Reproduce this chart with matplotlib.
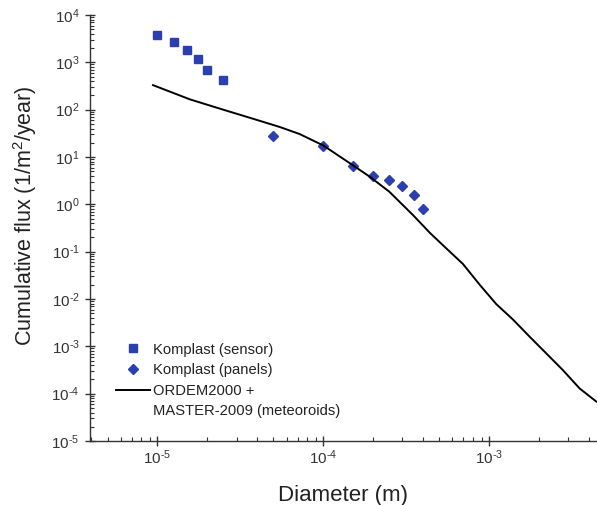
import matplotlib
matplotlib.use("Agg")
import numpy as np
import matplotlib.pyplot as plt
from matplotlib.lines import Line2D
from matplotlib.ticker import LogLocator, FuncFormatter, NullFormatter

plt.rcParams["font.family"] = ["Liberation Sans", "DejaVu Sans"]
plt.rcParams["mathtext.fontset"] = "custom"
plt.rcParams["mathtext.rm"] = "Liberation Sans"
plt.rcParams["mathtext.it"] = "Liberation Sans:italic"
plt.rcParams["mathtext.bf"] = "Liberation Sans:bold"
plt.rcParams["axes.unicode_minus"] = False

# Komplast sensor measurements
sensor_diam = [1.0e-5, 1.25e-5, 1.5e-5, 1.75e-5, 2.0e-5, 2.5e-5]
sensor_flux = [3800, 2700, 1850, 1180, 680, 420]

# Komplast panel measurements
panel_diam = [5.0e-5, 1.0e-4, 1.5e-4, 2.0e-4, 2.5e-4, 3.0e-4, 3.5e-4, 4.0e-4]
panel_flux = [28, 17, 6.5, 4.0, 3.3, 2.4, 1.6, 0.8]

# ORDEM2000 + MASTER-2009 model curve
model_diam = [9.4e-6, 1.57e-5, 2.49e-5, 3.96e-5, 5.47e-5, 7.21e-5, 1.0e-4,
              1.445e-4, 1.905e-4, 2.5e-4, 3.48e-4, 4.39e-4, 5.52e-4, 6.95e-4,
              8.77e-4, 1.104e-3, 1.39e-3, 1.754e-3, 2.21e-3, 2.78e-3,
              3.51e-3, 4.43e-3]
model_flux = [330, 165, 100, 61, 43, 30.5, 17.5, 7.4, 3.84, 1.85, 0.59,
              0.25, 0.117, 0.055, 0.02, 0.0078, 0.0037, 0.0016, 7.1e-4,
              3.16e-4, 1.29e-4, 6.8e-5]

model_label_1 = "ORDEM2000 +"
model_label_2 = "MASTER-2009 (meteoroids)"

blue = "#2b40ae"


def power_label(value, pos):
    """Write a decade as 10 with a superscript exponent, using a plain hyphen."""
    exponent = int(round(np.log10(value)))
    text = str(exponent).replace("-", r"\text{-}")
    return rf"$\mathdefault{{10^{{{text}}}}}$"


fig = plt.figure(figsize=(5.97, 5.05), dpi=100)
ax = fig.add_axes([90 / 597, 1 - 441 / 505, 507 / 597, 426 / 505])

h_sensor, = ax.plot(sensor_diam, sensor_flux, linestyle="none", marker="s",
                    ms=5.5, color=blue)
h_panel, = ax.plot(panel_diam, panel_flux, linestyle="none", marker="D",
                   ms=4.6, color=blue)
h_model, = ax.plot(model_diam, model_flux, color="black", lw=1.4)

ax.set_xscale("log")
ax.set_yscale("log")
ax.set_xlim(3.92e-6, 4.47e-3)
ax.set_ylim(1e-5, 1e4)

for side in ("top", "right"):
    ax.spines[side].set_visible(False)
for side in ("left", "bottom"):
    ax.spines[side].set_linewidth(1.0)
    ax.spines[side].set_color("#333333")

ax.xaxis.set_major_locator(LogLocator(base=10, numticks=20))
ax.yaxis.set_major_locator(LogLocator(base=10, numticks=20))
ax.xaxis.set_minor_locator(LogLocator(base=10, subs=range(2, 10), numticks=20))
ax.yaxis.set_minor_locator(LogLocator(base=10, subs=range(2, 10), numticks=20))
ax.xaxis.set_major_formatter(FuncFormatter(power_label))
ax.yaxis.set_major_formatter(FuncFormatter(power_label))
ax.xaxis.set_minor_formatter(NullFormatter())
ax.yaxis.set_minor_formatter(NullFormatter())

ax.tick_params(which="major", direction="inout", length=7, width=1.0,
               labelsize=11, colors="#333333", labelcolor="#333333")
ax.tick_params(which="minor", direction="in", length=3, width=0.8,
               colors="#333333")
ax.tick_params(axis="x", which="major", pad=2)
ax.tick_params(axis="y", which="major", pad=4)

ax.set_xlabel("Diameter (m)", fontsize=16, color="#222222", labelpad=13)
ax.set_ylabel("Cumulative flux (1/m$^2$/year)", fontsize=15.5,
              color="#222222", labelpad=9)
ax.yaxis.label.set_y(0.53)

# second line of the model label sits on its own row with no handle
blank = Line2D([], [], linestyle="none", marker="none")
ax.legend([h_sensor, h_panel, h_model, blank],
          ["Komplast (sensor)", "Komplast (panels)", model_label_1, model_label_2],
          loc="upper left", bbox_to_anchor=(0.04, 0.245), frameon=False,
          fontsize=10.6, handlelength=2.3, handletextpad=0.2,
          labelspacing=0.45, borderaxespad=0.0, labelcolor="#222222")

fig.savefig("out.png", dpi=100)
